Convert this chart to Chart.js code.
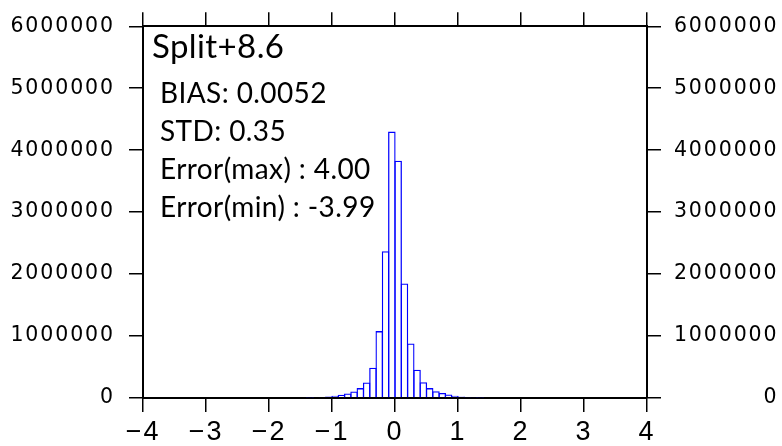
<!DOCTYPE html>
<html>
<head>
<meta charset="utf-8">
<script src="https://cdn.jsdelivr.net/npm/chart.js@4/dist/chart.umd.min.js"></script>
<style>
  html, body { margin: 0; padding: 0; background: #fff; }
  canvas { display: block; }
</style>
</head>
<body>
<canvas id="hist" width="782" height="446"></canvas>
<script>
// bin centres (width 0.1) and counts
const binCenters = [-1.35, -1.25, -1.15, -1.05, -0.95, -0.85, -0.75, -0.65, -0.55, -0.45, -0.35, -0.25, -0.15, -0.05,
                    0.05, 0.15, 0.25, 0.35, 0.45, 0.55, 0.65, 0.75, 0.85, 0.95, 1.05, 1.15, 1.25, 1.35];
const counts = [4000, 8000, 14000, 24000, 36000, 52000, 72000, 105000, 160000, 250000, 490000, 1080000, 2370000, 4300000,
                3830000, 1850000, 880000, 455000, 255000, 160000, 110000, 80000, 56000, 37000, 25000, 15000, 9000, 5000];
const xTicks = [-4, -3, -2, -1, 0, 1, 2, 3, 4];
const yTicks = [0, 1000000, 2000000, 3000000, 4000000, 5000000, 6000000];
const statLines = ['BIAS: 0.0052', 'STD: 0.35', 'Error(max) : 4.00', 'Error(min) : -3.99'];
const panelTitle = 'Split+8.6';

const xFont = { family: '"Liberation Sans", Arial, sans-serif', size: 27 };
const yFont = { family: '"DejaVu Sans", sans-serif', size: 20.5 };

function fixSize(prop, val) {
  return function (scale) { scale[prop] = val; };
}

const xTickOpts = {
  font: xFont, color: '#000', padding: 4, maxRotation: 0, autoSkip: false,
  callback: v => String(v).replace('-', '\u2212')
};
const yTickOpts = {
  font: yFont, color: '#000', autoSkip: false,
  callback: v => String(v)
};
const gridOpts = { drawOnChartArea: false, offset: false, tickLength: 14, color: '#000', lineWidth: 1.5 };
const borderOpts = { display: true, color: '#000', width: 2 };

const textPlugin = {
  id: 'stats',
  beforeDraw(chart) {
    // the axis numbers in the original are spread out
    chart.ctx.letterSpacing = '1.9px';
  },
  afterDraw(chart) {
    const ctx = chart.ctx;
    ctx.save();
    ctx.letterSpacing = '0.4px';
    ctx.fillStyle = '#000';
    ctx.textAlign = 'left';
    ctx.textBaseline = 'alphabetic';
    ctx.font = '33px Lato, sans-serif';
    ctx.fillText(panelTitle, 152, 58);
    ctx.font = '28px Lato, sans-serif';
    statLines.forEach((s, i) => ctx.fillText(s, 160, 103 + i * 38));
    ctx.restore();
  }
};

new Chart(document.getElementById('hist').getContext('2d'), {
  type: 'bar',
  data: {
    datasets: [{
      data: binCenters.map((c, i) => ({ x: c, y: counts[i] })),
      backgroundColor: 'rgba(0,0,0,0)',
      borderColor: '#0000ff',
      borderWidth: 1.3,
      barPercentage: 1.2,
      categoryPercentage: 1,
      xAxisID: 'x',
      yAxisID: 'y'
    }]
  },
  options: {
    responsive: false,
    animation: false,
    layout: { padding: { left: 0, right: 3.5, top: 0, bottom: 0 } },
    plugins: { legend: { display: false }, tooltip: { enabled: false } },
    scales: {
      x: {
        type: 'linear', position: 'bottom', min: -4, max: 4, offset: false,
        afterBuildTicks: s => { s.ticks = xTicks.map(v => ({ value: v })); },
        ticks: xTickOpts, grid: gridOpts, border: borderOpts,
        afterFit: fixSize('height', 48)
      },
      x2: {
        type: 'linear', position: 'top', min: -4, max: 4, offset: false,
        afterBuildTicks: s => { s.ticks = xTicks.map(v => ({ value: v })); },
        ticks: { display: false }, grid: gridOpts, border: borderOpts,
        afterFit: fixSize('height', 19)
      },
      y: {
        type: 'linear', position: 'left', min: 0, max: 6000000,
        afterBuildTicks: s => { s.ticks = yTicks.map(v => ({ value: v })); },
        ticks: Object.assign({ padding: 14 }, yTickOpts), grid: gridOpts, border: borderOpts,
        afterFit: fixSize('width', 143)
      },
      y2: {
        type: 'linear', position: 'right', min: 0, max: 6000000,
        afterBuildTicks: s => { s.ticks = yTicks.map(v => ({ value: v })); },
        ticks: Object.assign({ padding: 12, crossAlign: 'far' }, yTickOpts), grid: gridOpts, border: borderOpts,
        afterFit: fixSize('width', 131.5)
      }
    }
  },
  plugins: [textPlugin]
});
</script>
</body>
</html>
